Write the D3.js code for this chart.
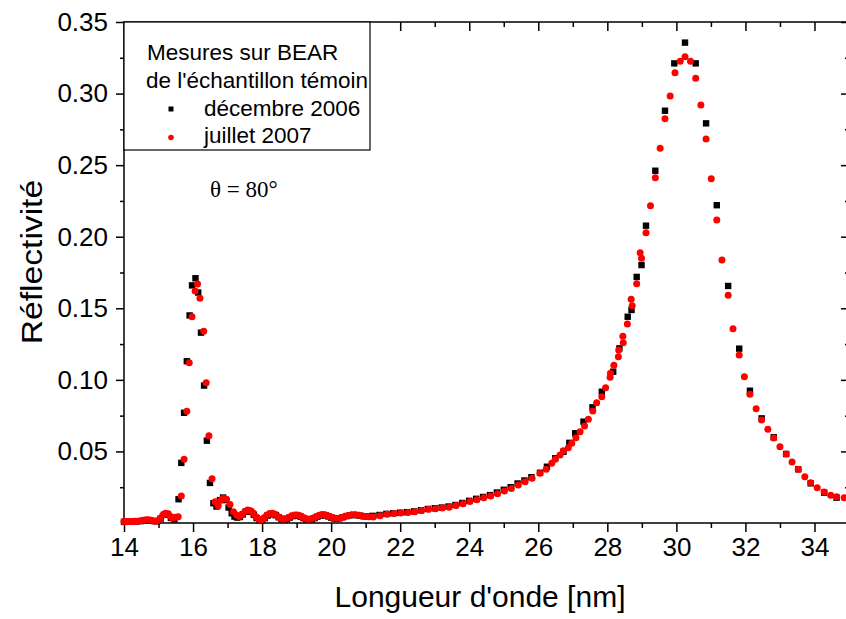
<!DOCTYPE html>
<html>
<head>
<meta charset="utf-8">
<script src="https://cdn.jsdelivr.net/npm/d3@7"></script>
<style>
  body { margin: 0; background: #fff; }
  svg { display: block; font-family: Arial, "Liberation Sans", sans-serif; }
</style>
</head>
<body>
<div id="chart"></div>
<script>
// [longueur d'onde (nm), reflectivite]
var dec2006 = [
  [14.00,0.0008],[14.12,0.0009],[14.24,0.0010],[14.36,0.0011],[14.48,0.0013],[14.60,0.0017],[14.72,0.0019],
  [14.84,0.0014],[14.96,0.0012],[15.06,0.0030],[15.16,0.0058],[15.26,0.0062],[15.36,0.0035],[15.46,0.0025],
  [15.58,0.0166],[15.66,0.0420],[15.74,0.0770],[15.82,0.1130],[15.90,0.1450],[15.97,0.1660],[16.07,0.1710],
  [16.15,0.1610],[16.23,0.1330],[16.32,0.0960],[16.40,0.0575],[16.49,0.0280],[16.59,0.0138],[16.68,0.0115],
  [16.78,0.0160],[16.87,0.0178],[16.95,0.0160],[17.03,0.0108],[17.12,0.0068],[17.20,0.0045],[17.28,0.0038],
  [17.36,0.0042],[17.44,0.0060],[17.52,0.0078],[17.60,0.0085],[17.68,0.0078],[17.76,0.0058],[17.84,0.0035],
  [17.92,0.0020],[18.00,0.0020],[18.08,0.0034],[18.16,0.0052],[18.24,0.0062],[18.32,0.0062],[18.40,0.0054],
  [18.48,0.0040],[18.56,0.0028],[18.64,0.0022],[18.72,0.0028],[18.80,0.0038],[18.88,0.0048],[18.96,0.0052],
  [19.04,0.0050],[19.12,0.0044],[19.20,0.0034],[19.28,0.0026],[19.36,0.0023],[19.44,0.0026],[19.52,0.0034],
  [19.60,0.0044],[19.68,0.0052],[19.76,0.0056],[19.84,0.0053],[19.92,0.0046],[20.00,0.0038],[20.08,0.0032],
  [20.16,0.0030],[20.24,0.0033],[20.34,0.0040],[20.44,0.0048],[20.54,0.0054],[20.64,0.0056],[20.74,0.0055],
  [20.84,0.0051],[20.94,0.0047],[21.04,0.0046],[21.20,0.0050],[21.40,0.0056],[21.60,0.0064],[21.80,0.0068],
  [22.00,0.0072],[22.20,0.0076],[22.40,0.0081],[22.60,0.0089],[22.80,0.0098],[23.00,0.0103],[23.20,0.0108],
  [23.40,0.0115],[23.60,0.0126],[23.80,0.0140],[24.00,0.0155],[24.20,0.0169],[24.40,0.0182],[24.60,0.0195],
  [24.80,0.0213],[25.00,0.0232],[25.20,0.0250],[25.40,0.0276],[25.60,0.0297],[25.80,0.0320],[26.05,0.0351],
  [26.25,0.0393],[26.49,0.0452],[26.73,0.0498],[26.90,0.0560],[27.07,0.0627],[27.31,0.0708],[27.57,0.0808],
  [27.84,0.0917],[28.17,0.1057],[28.35,0.1220],[28.59,0.1441],[28.70,0.1488],[28.85,0.1719],[28.99,0.1802],
  [29.12,0.2077],[29.39,0.2461],[29.67,0.2880],[29.94,0.3211],[30.25,0.3356],[30.56,0.3211],[30.86,0.2792],
  [31.17,0.2220],[31.50,0.1656],[31.82,0.1218],[32.13,0.0924],[32.47,0.0731],[32.82,0.0599],[33.18,0.0482],
  [33.53,0.0375],[33.89,0.0277],[34.28,0.0212],[34.64,0.0177]
];

var jul2007 = [
  [14.00,0.0010],[14.08,0.0010],[14.16,0.0011],[14.24,0.0011],[14.32,0.0012],[14.40,0.0013],[14.48,0.0015],
  [14.56,0.0019],[14.64,0.0022],[14.72,0.0023],[14.80,0.0019],[14.88,0.0013],[14.96,0.0014],[15.04,0.0030],
  [15.12,0.0055],[15.20,0.0068],[15.28,0.0064],[15.34,0.0048],[15.40,0.0034],[15.48,0.0040],[15.57,0.0044],
  [15.66,0.0189],[15.74,0.0445],[15.82,0.0780],[15.89,0.1120],[15.97,0.1440],[16.06,0.1620],[16.13,0.1670],
  [16.20,0.1570],[16.31,0.1340],[16.38,0.0980],[16.46,0.0610],[16.55,0.0310],[16.64,0.0149],[16.73,0.0120],
  [16.81,0.0160],[16.88,0.0173],[16.97,0.0166],[17.07,0.0130],[17.17,0.0079],[17.26,0.0056],[17.34,0.0045],
  [17.42,0.0058],[17.50,0.0080],[17.58,0.0091],[17.66,0.0086],[17.74,0.0068],[17.82,0.0043],[17.90,0.0027],
  [17.98,0.0023],[18.06,0.0036],[18.14,0.0056],[18.22,0.0066],[18.30,0.0068],[18.38,0.0061],[18.46,0.0046],
  [18.54,0.0033],[18.62,0.0027],[18.70,0.0031],[18.78,0.0041],[18.86,0.0051],[18.94,0.0056],[19.02,0.0056],
  [19.10,0.0050],[19.18,0.0040],[19.26,0.0032],[19.34,0.0027],[19.42,0.0029],[19.50,0.0036],[19.58,0.0046],
  [19.66,0.0055],[19.74,0.0060],[19.82,0.0058],[19.90,0.0051],[19.98,0.0043],[20.06,0.0036],[20.14,0.0033],
  [20.22,0.0034],[20.30,0.0039],[20.40,0.0047],[20.50,0.0053],[20.60,0.0057],[20.70,0.0058],[20.80,0.0055],
  [20.90,0.0049],[21.00,0.0045],[21.10,0.0043],[21.22,0.0042],[21.42,0.0051],[21.62,0.0062],[21.82,0.0066],
  [22.02,0.0070],[22.22,0.0074],[22.42,0.0078],[22.62,0.0087],[22.82,0.0096],[23.02,0.0100],[23.22,0.0104],
  [23.42,0.0110],[23.62,0.0122],[23.82,0.0134],[24.02,0.0150],[24.22,0.0163],[24.42,0.0177],[24.62,0.0188],
  [24.82,0.0205],[25.02,0.0224],[25.22,0.0241],[25.42,0.0265],[25.62,0.0289],[25.82,0.0313],[26.05,0.0347],
  [26.23,0.0375],[26.39,0.0417],[26.49,0.0445],[26.63,0.0475],[26.73,0.0505],[26.87,0.0526],[26.97,0.0557],
  [27.09,0.0596],[27.21,0.0638],[27.34,0.0678],[27.45,0.0724],[27.58,0.0782],[27.69,0.0840],[27.84,0.0882],
  [27.95,0.0945],[28.08,0.1018],[28.09,0.1046],[28.19,0.1102],[28.32,0.1162],[28.33,0.1209],[28.45,0.1304],
  [28.46,0.1260],[28.58,0.1390],[28.69,0.1563],[28.72,0.1518],[28.85,0.1672],[28.95,0.1888],[28.99,0.1849],
  [29.12,0.2028],[29.25,0.2217],[29.39,0.2412],[29.53,0.2618],[29.67,0.2824],[29.82,0.2983],[29.96,0.3146],
  [30.11,0.3225],[30.25,0.3258],[30.41,0.3225],[30.56,0.3107],[30.71,0.2920],[30.86,0.2683],[31.01,0.2405],
  [31.17,0.2117],[31.32,0.1837],[31.50,0.1591],[31.64,0.1357],[31.82,0.1174],[31.97,0.1022],[32.13,0.0899],
  [32.31,0.0799],[32.47,0.0720],[32.65,0.0655],[32.82,0.0594],[33.00,0.0533],[33.18,0.0482],[33.35,0.0426],
  [33.53,0.0375],[33.72,0.0323],[33.89,0.0282],[34.08,0.0247],[34.28,0.0217],[34.47,0.0194],[34.64,0.0184],
  [34.86,0.0177]
];

var xMajor = [14,16,18,20,22,24,26,28,30,32,34];
var xMinor = [15,17,19,21,23,25,27,29,31,33,35];
var yMajor = [0.05,0.10,0.15,0.20,0.25,0.30,0.35];
var yMinor = [0.025,0.075,0.125,0.175,0.225,0.275,0.325];

var legendTitle = ["Mesures sur BEAR", "de l'\u00e9chantillon t\u00e9moin"];
var legendSeries = ["d\u00e9cembre 2006", "juillet 2007"];

var width = 846, height = 619;
var plot = {left: 124, right: 849, top: 22, bottom: 523};

var svg = d3.select("#chart").append("svg")
    .attr("width", width)
    .attr("height", height);

var x = d3.scaleLinear()
    .domain([14, 35])
    .range([plot.left, plot.right]);

var y = d3.scaleLinear()
    .domain([0, 0.35])
    .range([plot.bottom, plot.top]);

// axes: major ticks with labels, minor ticks without
function styleAxis(g) {
  g.select(".domain").remove();
  g.selectAll(".tick line").attr("stroke", "#000").attr("stroke-width", 1.5);
  g.selectAll(".tick text").attr("fill", "#000").attr("font-size", 26)
    .attr("font-family", "Arial, 'Liberation Sans', sans-serif");
}

svg.append("g")
  .attr("transform", `translate(0,${plot.bottom})`)
  .call(d3.axisBottom(x).tickValues(xMajor).tickSize(9).tickPadding(6).tickFormat(d3.format("d")))
  .call(styleAxis);
svg.append("g")
  .attr("transform", `translate(0,${plot.bottom})`)
  .call(d3.axisBottom(x).tickValues(xMinor).tickSize(5).tickFormat(""))
  .call(styleAxis);

svg.append("g")
  .attr("transform", `translate(0,${plot.top})`)
  .call(d3.axisTop(x).tickValues(xMajor).tickSize(-9).tickFormat(""))
  .call(styleAxis);
svg.append("g")
  .attr("transform", `translate(0,${plot.top})`)
  .call(d3.axisTop(x).tickValues(xMinor).tickSize(-5).tickFormat(""))
  .call(styleAxis);

svg.append("g")
  .attr("transform", `translate(${plot.left},0)`)
  .call(d3.axisLeft(y).tickValues(yMajor).tickSize(8).tickPadding(8).tickFormat(d3.format(".2f")))
  .call(styleAxis);
svg.append("g")
  .attr("transform", `translate(${plot.left},0)`)
  .call(d3.axisLeft(y).tickValues(yMinor).tickSize(4).tickFormat(""))
  .call(styleAxis);

svg.append("g")
  .attr("transform", `translate(${plot.right},0)`)
  .call(d3.axisRight(y).tickValues(yMajor).tickSize(-8).tickFormat(""))
  .call(styleAxis);
svg.append("g")
  .attr("transform", `translate(${plot.right},0)`)
  .call(d3.axisRight(y).tickValues(yMinor).tickSize(-4).tickFormat(""))
  .call(styleAxis);

svg.append("rect")
  .attr("x", plot.left)
  .attr("y", plot.top)
  .attr("width", plot.right - plot.left)
  .attr("height", plot.bottom - plot.top)
  .attr("fill", "none")
  .attr("stroke", "#000")
  .attr("stroke-width", 1.5);

// points
var sq = 6.4;
svg.append("g").selectAll("rect")
    .data(dec2006)
    .enter().append("rect")
    .attr("x", d => x(d[0]) - sq / 2)
    .attr("y", d => y(d[1]) - sq / 2)
    .attr("width", sq)
    .attr("height", sq)
    .attr("fill", "#000");

svg.append("g").selectAll("circle")
    .data(jul2007)
    .enter().append("circle")
    .attr("cx", d => x(d[0]))
    .attr("cy", d => y(d[1]))
    .attr("r", 3.5)
    .attr("fill", "#ff0000");

// legend
var legend = svg.append("g");
legend.append("rect")
  .attr("x", plot.left)
  .attr("y", plot.top)
  .attr("width", 246)
  .attr("height", 128)
  .attr("fill", "#fff")
  .attr("stroke", "#000")
  .attr("stroke-width", 1.2);

legend.selectAll(".ltitle")
    .data(legendTitle)
    .enter().append("text")
    .attr("x", (d, i) => i == 0 ? 147 : 146)
    .attr("y", (d, i) => 60 + i * 28)
    .attr("font-size", 22.5)
    .text(d => d);

legend.selectAll(".lseries")
    .data(legendSeries)
    .enter().append("text")
    .attr("x", 204)
    .attr("y", (d, i) => 116 + i * 27)
    .attr("font-size", 22.5)
    .text(d => d);

legend.append("rect")
  .attr("x", 168.5).attr("y", 106.5)
  .attr("width", 5).attr("height", 5)
  .attr("fill", "#000");
legend.append("circle")
  .attr("cx", 171).attr("cy", 137.5)
  .attr("r", 2.8)
  .attr("fill", "#ff0000");

svg.append("text")
  .attr("x", 210)
  .attr("y", 197)
  .attr("font-family", "'Times New Roman', 'Liberation Serif', serif")
  .attr("font-size", 23)
  .text("\u03b8 = 80\u00b0");

// axis titles
svg.append("text")
  .attr("x", 480)
  .attr("y", 607)
  .attr("text-anchor", "middle")
  .attr("font-size", 30)
  .text("Longueur d'onde [nm]");

svg.append("text")
  .attr("transform", "translate(42,262) rotate(-90) scale(1.12,1)")
  .attr("text-anchor", "middle")
  .attr("font-size", 30)
  .text("R\u00e9flectivit\u00e9");
</script>
</body>
</html>
